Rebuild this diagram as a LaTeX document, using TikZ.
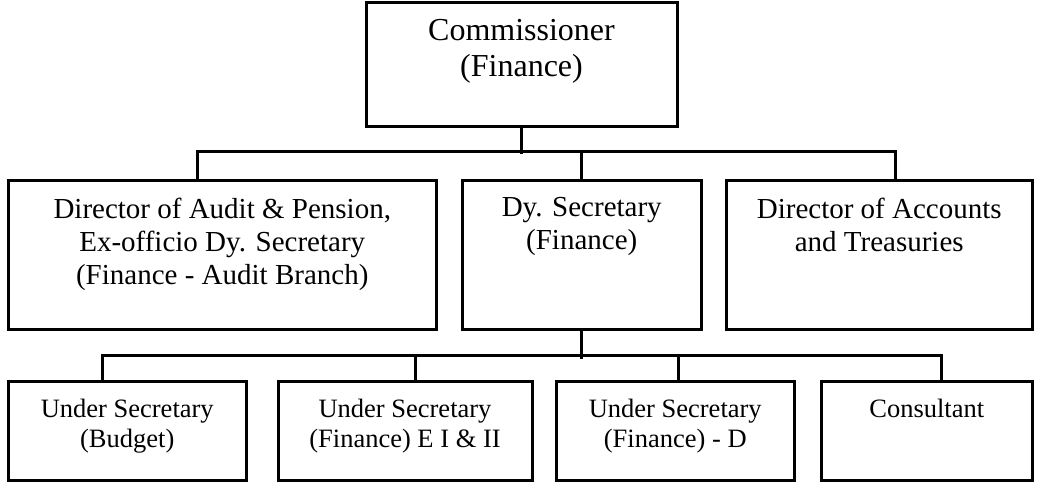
\documentclass[tikz,border=0pt]{standalone}
\usepackage{fontspec}
\setmainfont{Liberation Serif}
\usetikzlibrary{positioning}

\begin{document}
\begin{tikzpicture}[x=1pt, y=-1pt,
  box/.style={draw, line width=3pt, inner sep=0pt},
  lbl/.style={align=center, inner sep=0pt},
  headtxt/.style={lbl, font=\fontsize{32}{36}\selectfont},
  midtxt/.style={lbl, font=\fontsize{29}{33}\selectfont},
  lowtxt/.style={lbl, font=\fontsize{26.5}{30}\selectfont},
  conn/.style={line width=3pt}
]
\useasboundingbox (0,0) rectangle (1039,484);

% head of the department
\node[box, minimum width=311, minimum height=124.5] (comm) at (521.5,64.75) {};
\node[headtxt, below=18.5pt of comm.north] (commtxt) {Commissioner\\(Finance)};

% second row
\node[box, minimum width=427.5, minimum height=149] (audit) at (222.25,254.5) {};
\node[midtxt, below=19pt of audit.north] (audittxt)
  {Director of Audit \& Pension,\\Ex-officio Dy. Secretary\\(Finance - Audit Branch)};
\node[box, minimum width=238.5, minimum height=149] (dysec) at (581.75,254.5) {};
\node[midtxt, below=19pt of dysec.north] (dysectxt) {Dy. Secretary\\(Finance)};
\node[box, minimum width=305.5, minimum height=149] (acct) at (879.25,254.5) {};
\node[midtxt, below=19pt of acct.north] (accttxt) {Director of Accounts\\and Treasuries};

% third row
\node[box, minimum width=237.5, minimum height=99] (usbud) at (127.25,431) {};
\node[lowtxt, below=18.5pt of usbud.north] (usbudtxt) {Under Secretary\\(Budget)};
\node[box, minimum width=254, minimum height=99] (useii) at (405,431) {};
\node[lowtxt, below=18.5pt of useii.north] (useiitxt) {Under Secretary\\(Finance) E I \& II};
\node[box, minimum width=237.5, minimum height=99] (usd) at (675.25,431) {};
\node[lowtxt, below=18.5pt of usd.north] (usdtxt) {Under Secretary\\(Finance) - D};
\node[box, minimum width=210.5, minimum height=99] (cons) at (926.75,431) {};
\node[lowtxt, below=18.5pt of cons.north] (constxt) {Consultant};

% connectors
\draw[conn] (comm.south) -- ++(0,26);
\draw[conn] ([xshift=-25pt]audit.north) -- ++(0,-27) -| ([xshift=16pt]acct.north);
\draw[conn] (dysec.north) -- ++(0,-27);

\draw[conn] (dysec.south) -- ++(0,28);
\draw[conn] ([xshift=-25pt]usbud.north) -- ++(0,-24.5) -| ([xshift=15pt]cons.north);
\draw[conn] ([xshift=10pt]useii.north) -- ++(0,-24.5);
\draw[conn] ([xshift=3pt]usd.north) -- ++(0,-24.5);
\end{tikzpicture}
\end{document}
